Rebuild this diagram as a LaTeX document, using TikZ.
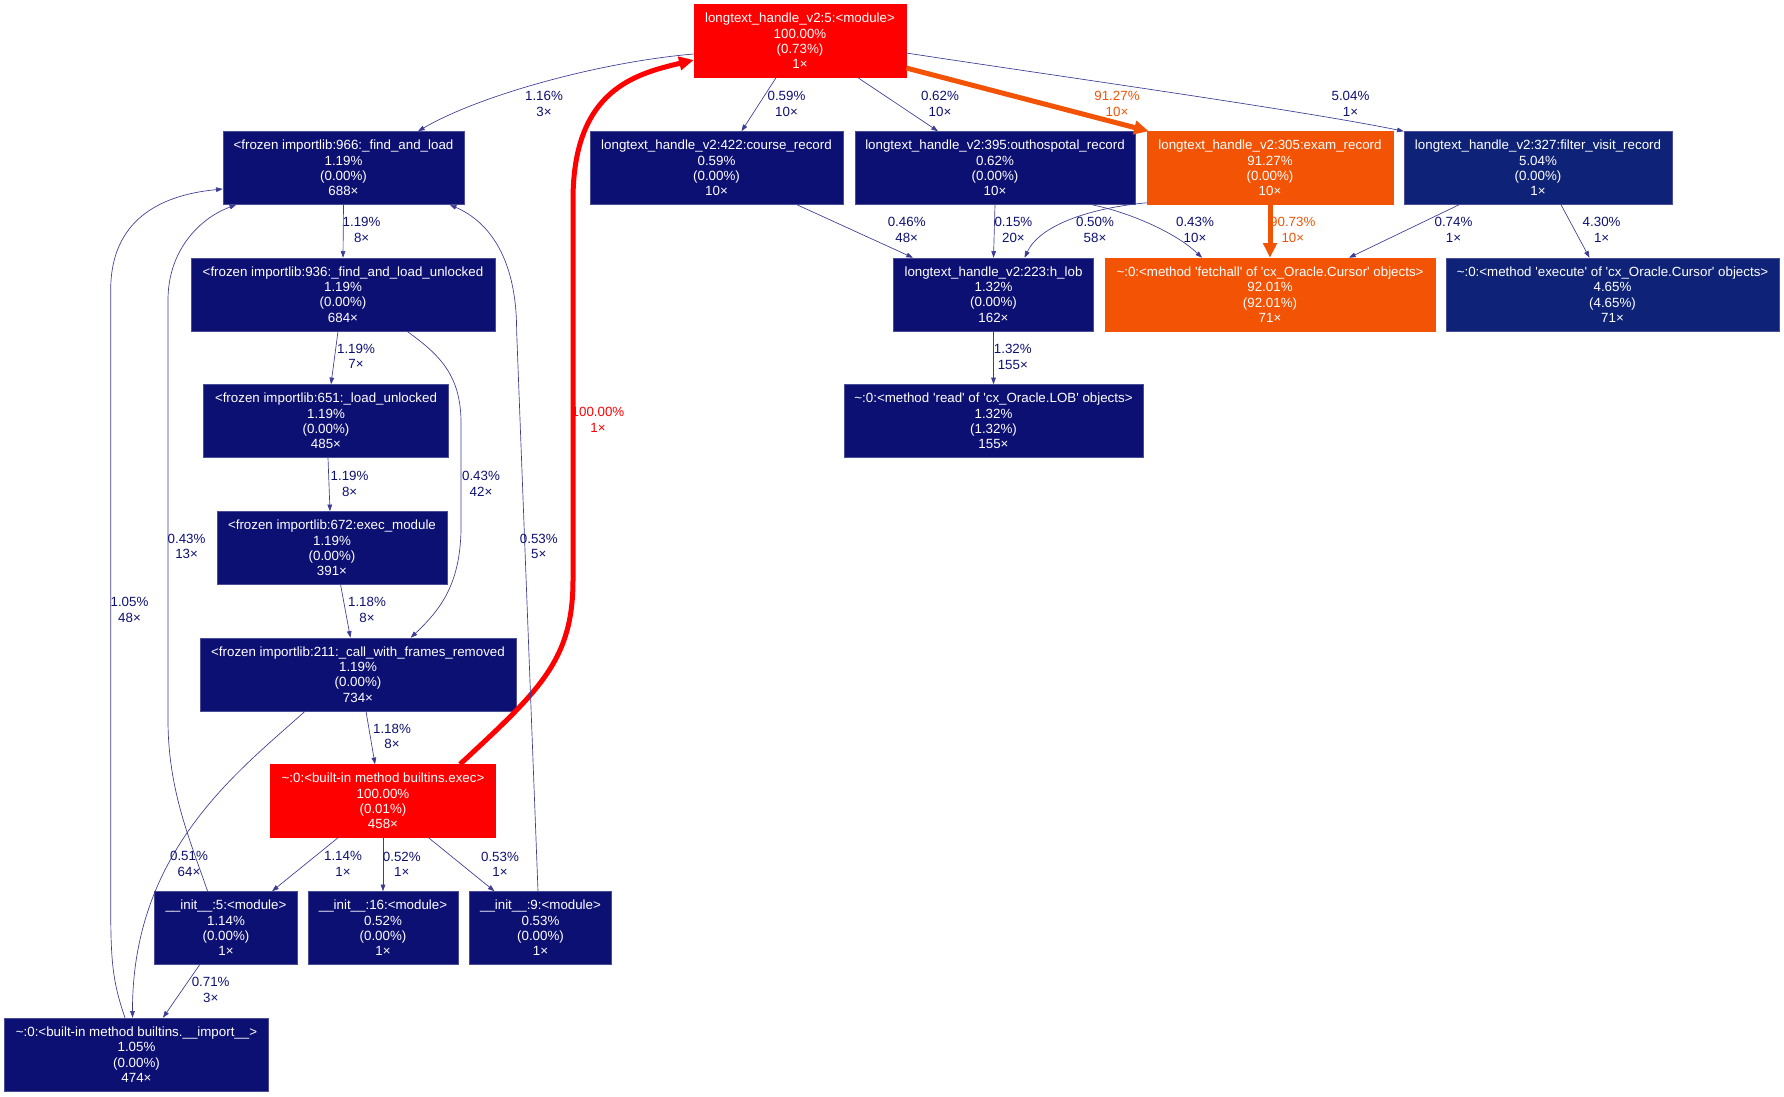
\documentclass[tikz,border=0pt]{standalone}
\usepackage{fontspec}
\setmainfont{Liberation Sans}
\usepackage{xcolor}
\usepackage{tikz}
\usetikzlibrary{arrows.meta, calc}

\definecolor{navyfill}{RGB}{13,16,115}
\definecolor{bluefill}{RGB}{14,35,120}
\definecolor{hotorange}{RGB}{242,83,5}
\definecolor{hotred}{RGB}{255,0,0}
\definecolor{edgeblue}{RGB}{60,60,150}
\newcommand{\sq}{\textquotesingle}

\begin{document}
\begin{tikzpicture}[
  x=0.75pt, y=-0.75pt,
  fnbox/.style={rectangle, fill=navyfill, draw=navyfill!75!white, line width=0.4pt, text=white, align=center,
    minimum height=54.75pt, inner sep=0pt, font=\fontsize{10}{11.5}\selectfont},
  elabel/.style={align=center, inner sep=0pt, text=navyfill, font=\fontsize{10}{11.5}\selectfont},
  call/.style={draw=edgeblue, line width=0.5pt, -{Triangle[length=5pt,width=3.5pt]}},
  hotcall/.style={line width=3.75pt, -{Triangle[length=11pt,width=10pt]}},
]
\useasboundingbox (0,0) rectangle (1784,1096);

% Top module
\node[fnbox, fill=hotred, draw=hotred, minimum width=159pt] (module) at (800,41)
  {longtext\_handle\_v2:5:<module>\\100.00\%\\(0.73\%)\\1×};

% Record functions
\node[fnbox, minimum width=180.75pt] (find) at (343.5,168)
  {<frozen importlib:966:\_find\_and\_load\\1.19\%\\(0.00\%)\\688×};
\node[fnbox, minimum width=189.75pt] (course) at (716.5,168)
  {longtext\_handle\_v2:422:course\_record\\0.59\%\\(0.00\%)\\10×};
\node[fnbox, minimum width=210pt] (outh) at (995,168)
  {longtext\_handle\_v2:395:outhospotal\_record\\0.62\%\\(0.00\%)\\10×};
\node[fnbox, fill=hotorange, draw=hotorange, minimum width=184.5pt] (exam) at (1270,168)
  {longtext\_handle\_v2:305:exam\_record\\91.27\%\\(0.00\%)\\10×};
\node[fnbox, fill=bluefill, minimum width=201pt] (filter) at (1538,168)
  {longtext\_handle\_v2:327:filter\_visit\_record\\5.04\%\\(0.00\%)\\1×};

% Database calls
\node[fnbox, minimum width=150pt] (hlob) at (993.5,294.5)
  {longtext\_handle\_v2:223:h\_lob\\1.32\%\\(0.00\%)\\162×};
\node[fnbox, fill=hotorange, draw=hotorange, minimum width=247.5pt] (fetchall) at (1270,294.5)
  {\textasciitilde:0:<method \sq fetchall\sq\ of \sq cx\_Oracle.Cursor\sq\ objects>\\92.01\%\\(92.01\%)\\71×};
\node[fnbox, fill=bluefill, minimum width=249.75pt] (execute) at (1612.5,294.5)
  {\textasciitilde:0:<method \sq execute\sq\ of \sq cx\_Oracle.Cursor\sq\ objects>\\4.65\%\\(4.65\%)\\71×};
\node[fnbox, minimum width=224.25pt] (read) at (993.5,421)
  {\textasciitilde:0:<method \sq read\sq\ of \sq cx\_Oracle.LOB\sq\ objects>\\1.32\%\\(1.32\%)\\155×};

% Import machinery
\node[fnbox, minimum width=228pt] (unlocked) at (343,294.5)
  {<frozen importlib:936:\_find\_and\_load\_unlocked\\1.19\%\\(0.00\%)\\684×};
\node[fnbox, minimum width=183.75pt] (loadunl) at (326,421)
  {<frozen importlib:651:\_load\_unlocked\\1.19\%\\(0.00\%)\\485×};
\node[fnbox, minimum width=172.5pt] (execmod) at (332,548)
  {<frozen importlib:672:exec\_module\\1.19\%\\(0.00\%)\\391×};
\node[fnbox, minimum width=237pt] (callfr) at (358,674.5)
  {<frozen importlib:211:\_call\_with\_frames\_removed\\1.19\%\\(0.00\%)\\734×};
\node[fnbox, fill=hotred, draw=hotred, minimum width=168.4pt] (bexec) at (383,801)
  {\textasciitilde:0:<built-in method builtins.exec>\\100.00\%\\(0.01\%)\\458×};
\node[fnbox, minimum width=106.9pt] (initfive) at (226,928)
  {\_\_init\_\_:5:<module>\\1.14\%\\(0.00\%)\\1×};
\node[fnbox, minimum width=112.5pt] (initsixteen) at (383,928)
  {\_\_init\_\_:16:<module>\\0.52\%\\(0.00\%)\\1×};
\node[fnbox, minimum width=106.5pt] (initnine) at (540.5,928)
  {\_\_init\_\_:9:<module>\\0.53\%\\(0.00\%)\\1×};
\node[fnbox, minimum width=198pt] (bimport) at (136.5,1054.5)
  {\textasciitilde:0:<built-in method builtins.\_\_import\_\_>\\1.05\%\\(0.00\%)\\474×};

% Calls from the module
\draw[call] ($(module.west)+(0,13)$) .. controls (600,62) and (480,95) .. ($(find.north)+(74.5,0)$);
\draw[call] ($(module.south)+(-24,0)$) -- ($(course.north)+(25,0)$);
\draw[call] ($(module.south)+(58,0)$) -- ($(outh.north)+(-57,0)$);
\draw[hotcall, draw=hotorange] ($(module.east)+(0,27)$) -- ($(exam.north west)+(2,0)$);
\draw[call] ($(module.east)+(0,12)$) .. controls (1050,75) and (1300,110) .. (filter.north west);

% Calls from the records
\draw[call] ($(course.south)+(80.5,0)$) -- ($(hlob.north)+(-80.5,0)$);
\draw[call] (outh.south) -- (hlob.north);
\draw[call] ($(exam.south west)+(0,-2)$) .. controls (1090,208) and (1040,225) .. ($(hlob.north)+(31,0)$);
\draw[call] ($(outh.south)+(97,0)$) .. controls (1128,212) and (1175,232) .. ($(fetchall.north)+(-68,0)$);
\draw[hotcall, draw=hotorange] (exam.south) -- (fetchall.north);
\draw[call] ($(filter.south)+(-79,0)$) -- ($(fetchall.north)+(79,0)$);
\draw[call] ($(filter.south)+(23,0)$) -- ($(execute.north)+(-23,0)$);
\draw[call] (hlob.south) -- (read.north);

% Import chain
\draw[call] (find.south) -- (unlocked.north);
\draw[call] ($(unlocked.south)+(-5,0)$) -- ($(loadunl.north)+(5,0)$);
\draw[call] ($(unlocked.south)+(64,0)$) .. controls (440,355) and (460,375) .. (461,420)
  -- (461,530) .. controls (460,585) and (440,610) .. ($(callfr.north)+(52.7,0)$);
\draw[call] ($(loadunl.south)+(2,0)$) -- ($(execmod.north)+(-2,0)$);
\draw[call] ($(execmod.south)+(8.6,0)$) -- ($(callfr.north)+(-7.6,0)$);
\draw[call] ($(callfr.south)+(8,0)$) -- ($(bexec.north)+(-8,0)$);
\draw[call] ($(callfr.south)+(-53,0)$) .. controls (240,770) and (132,850) .. ($(bimport.north)+(-4,0)$);

% exec back up to the module
\draw[hotcall, draw=hotred] ($(bexec.north)+(77,0)$) .. controls (540,690) and (573,660) .. (573,580)
  -- (573,200) .. controls (573,90) and (635,74) .. ($(module.west)+(0,19)$);

% exec down to the packages
\draw[call] ($(bexec.south)+(-45,0)$) -- ($(initfive.north)+(46,0)$);
\draw[call] (bexec.south) -- (initsixteen.north);
\draw[call] ($(bexec.south)+(45.6,0)$) -- ($(initnine.north)+(-46,0)$);
\draw[call] ($(initfive.south)+(-26.4,0)$) -- ($(bimport.north)+(26.5,0)$);

% Back edges to find_and_load
\draw[call] ($(initfive.north)+(-18.4,0)$) .. controls (190,840) and (168,790) .. (168,720)
  -- (168,300) .. controls (168,250) and (200,218) .. ($(find.south west)+(13.5,0)$);
\draw[call] ($(bimport.north)+(-11.5,0)$) .. controls (112,980) and (110.7,960) .. (110.7,900)
  -- (110.7,290) .. controls (110.7,220) and (160,195) .. ($(find.west)+(0,21)$);
\draw[call] ($(initnine.north)+(-2.5,0)$) -- (516.6,330) .. controls (516.6,260) and (490,222) .. ($(find.south east)+(-14.5,0)$);

% Labels
\node[elabel] (lfind) at (544,104) {1.16\%\\3×};
\node[elabel] (lcourse) at (786.5,104) {0.59\%\\10×};
\node[elabel] (louth) at (940,104) {0.62\%\\10×};
\node[elabel, text=hotorange] (lexam) at (1117,104) {91.27\%\\10×};
\node[elabel] (lfilter) at (1350.5,104) {5.04\%\\1×};
\node[elabel] (lcoursehlob) at (906.7,230) {0.46\%\\48×};
\node[elabel] (louthhlob) at (1013.4,230) {0.15\%\\20×};
\node[elabel] (lexamhlob) at (1095,230) {0.50\%\\58×};
\node[elabel] (louthfetch) at (1195,230) {0.43\%\\10×};
\node[elabel, text=hotorange] (lexamfetch) at (1292.8,230) {90.73\%\\10×};
\node[elabel] (lfilterfetch) at (1453.5,230) {0.74\%\\1×};
\node[elabel] (lfilterexec) at (1601.6,230) {4.30\%\\1×};
\node[elabel] (lread) at (1012.8,357) {1.32\%\\155×};
\node[elabel] (lunlocked) at (361.6,230) {1.19\%\\8×};
\node[elabel] (lloadunl) at (356,356.5) {1.19\%\\7×};
\node[elabel] (lunlcall) at (481,484) {0.43\%\\42×};
\node[elabel] (lexecmod) at (349.6,484) {1.19\%\\8×};
\node[elabel] (lfivefind) at (186.6,546.5) {0.43\%\\13×};
\node[elabel] (lninefind) at (538.8,546.5) {0.53\%\\5×};
\node[elabel] (limportfind) at (129.5,610) {1.05\%\\48×};
\node[elabel] (lcallfr) at (367,610) {1.18\%\\8×};
\node[elabel, text=hotred] (lback) at (598,420) {100.00\%\\1×};
\node[elabel] (lbexec) at (392,736.5) {1.18\%\\8×};
\node[elabel] (lcallimport) at (189,864) {0.51\%\\64×};
\node[elabel] (linitfive) at (343,864) {1.14\%\\1×};
\node[elabel] (linitsixteen) at (401.8,864) {0.52\%\\1×};
\node[elabel] (linitnine) at (500,864) {0.53\%\\1×};
\node[elabel] (lfiveimport) at (210.7,990) {0.71\%\\3×};

\end{tikzpicture}
\end{document}
